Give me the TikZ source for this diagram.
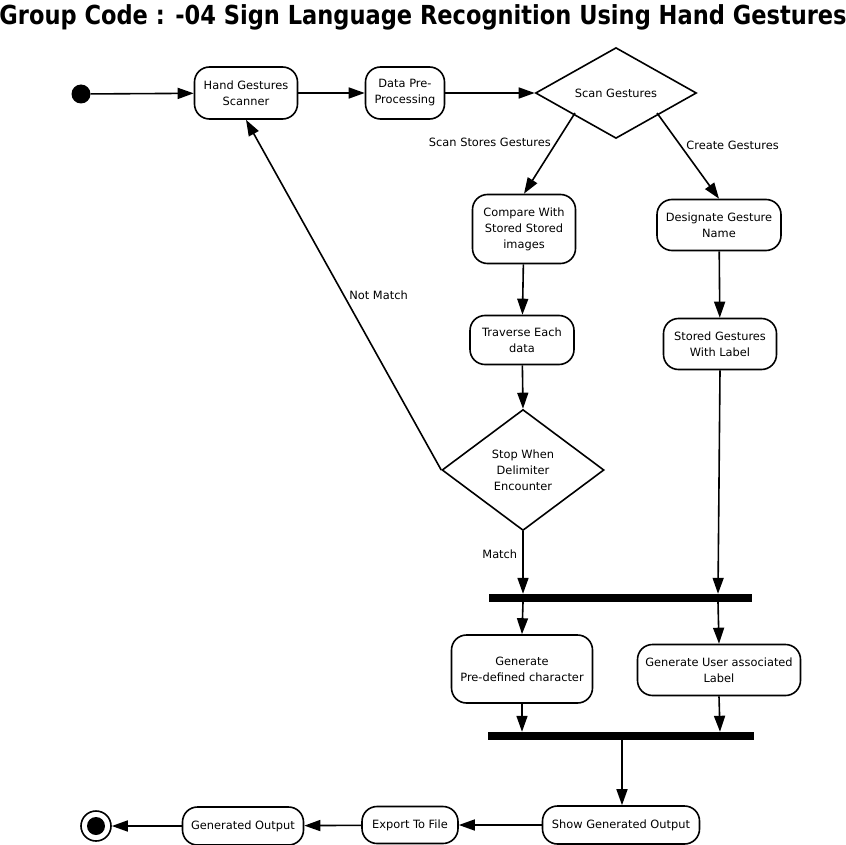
\documentclass[tikz,border=0pt]{standalone}
\usepackage{fontspec}
\setmainfont{DejaVu Sans}
\newfontfamily\titlefont[FakeStretch=0.86]{DejaVu Sans}
\usetikzlibrary{arrows.meta,shapes.geometric}
\begin{document}
\begin{tikzpicture}[x=1pt,y=-1pt,
  every node/.style={font=\fontsize{11.4}{16}\selectfont},
  act/.style={draw,line width=1.6pt,rounded corners=15pt,align=center,inner sep=0pt},
  dec/.style={draw,line width=1.6pt,diamond,align=center,inner sep=0pt},
  bar/.style={fill=black,inner sep=0pt,minimum height=8pt},
  lbl/.style={inner sep=1pt},
  flow/.style={line width=1.6pt,-{Triangle[length=16pt,width=11pt]}}]
\useasboundingbox (0,0) rectangle (846,845);
\node[font=\titlefont\bfseries\fontsize{26.2}{30}\selectfont] (title) at (423,17) {Group Code : -04 Sign Language Recognition Using Hand Gestures};
\node[circle,fill=black,minimum size=19pt,inner sep=0pt] (start) at (81,94) {};
\node[act,minimum width=103pt,minimum height=52pt] (hgs) at (246,93) {Hand Gestures\\Scanner};
\node[act,minimum width=79pt,minimum height=52pt] (dpp) at (405,93) {Data Pre-\\Processing};
\node[dec,minimum width=161pt,minimum height=79pt] (scan) at (616,93) {Scan Gestures};
\node[act,minimum width=103pt,minimum height=69pt] (cmp) at (524,229) {Compare With\\Stored Stored\\images};
\node[act,minimum width=124pt,minimum height=51pt] (des) at (719,225) {Designate Gesture\\Name};
\node[act,minimum width=104pt,minimum height=49pt] (trav) at (522,340) {Traverse Each\\data};
\node[act,minimum width=113pt,minimum height=51pt] (sgl) at (720,344) {Stored Gestures\\With Label};
\node[dec,minimum width=162pt,minimum height=121pt] (stop) at (523,470) {Stop When\\Delimiter\\Encounter};
\node[bar,minimum width=263pt] (fork1) at (620.5,598) {};
\node[act,minimum width=141pt,minimum height=68pt] (gpc) at (522,669) {Generate\\Pre-defined character};
\node[act,minimum width=163pt,minimum height=51pt] (gul) at (719,670) {Generate User associated\\Label};
\node[bar,minimum width=266pt] (fork2) at (621,736) {};
\node[act,minimum width=157pt,minimum height=38pt] (sgo) at (621,825) {Show Generated Output};
\node[act,minimum width=96pt,minimum height=37pt] (etf) at (410,825) {Export To File};
\node[act,minimum width=121pt,minimum height=38pt] (go) at (243,826) {Generated Output};
\node[circle,draw,line width=1.6pt,minimum size=30pt,inner sep=0pt] (end) at (96,826) {};
\node[circle,fill=black,minimum size=18pt,inner sep=0pt] at (end.center) {};
\coordinate (sL) at (575,113);
\coordinate (sR) at (657,113);
\coordinate (f1a) at (523,598);
\coordinate (f1b) at (718,598);
\coordinate (f2a) at (522,736);
\coordinate (f2b) at (720,736);
\coordinate (f2c) at (622,736);
\draw[flow] (start) -- (hgs);
\draw[flow] (hgs) -- (dpp);
\draw[flow] (dpp) -- (scan.west);
\draw[flow] (sL) -- (cmp.north) node[lbl,pos=0.36,left=4pt] (l1) {Scan Stores Gestures};
\draw[flow] (sR) -- (des.north) node[lbl,pos=0.38,right=4pt] (l2) {Create Gestures};
\draw[flow] (cmp) -- (trav);
\draw[flow] (des) -- (sgl);
\draw[flow] (trav) -- (stop.north);
\draw[flow] (stop.west) -- (hgs.south) node[lbl,pos=0.5,right=4pt] (l3) {Not Match};
\draw[flow] (stop.south) -- (f1a |- fork1.north) node[lbl,pos=0.36,left=4pt] (l4) {Match};
\draw[flow] (sgl.south) -- (f1b |- fork1.north);
\draw[flow] (f1a |- fork1.south) -- (gpc.north);
\draw[flow] (f1b |- fork1.south) -- (gul.north);
\draw[flow] (gpc.south) -- (f2a |- fork2.north);
\draw[flow] (gul.south) -- (f2b |- fork2.north);
\draw[flow] (f2c |- fork2.south) -- (f2c |- sgo.north);
\draw[flow] (sgo) -- (etf);
\draw[flow] (etf) -- (go);
\draw[flow] (go) -- (end);
\end{tikzpicture}
\end{document}
